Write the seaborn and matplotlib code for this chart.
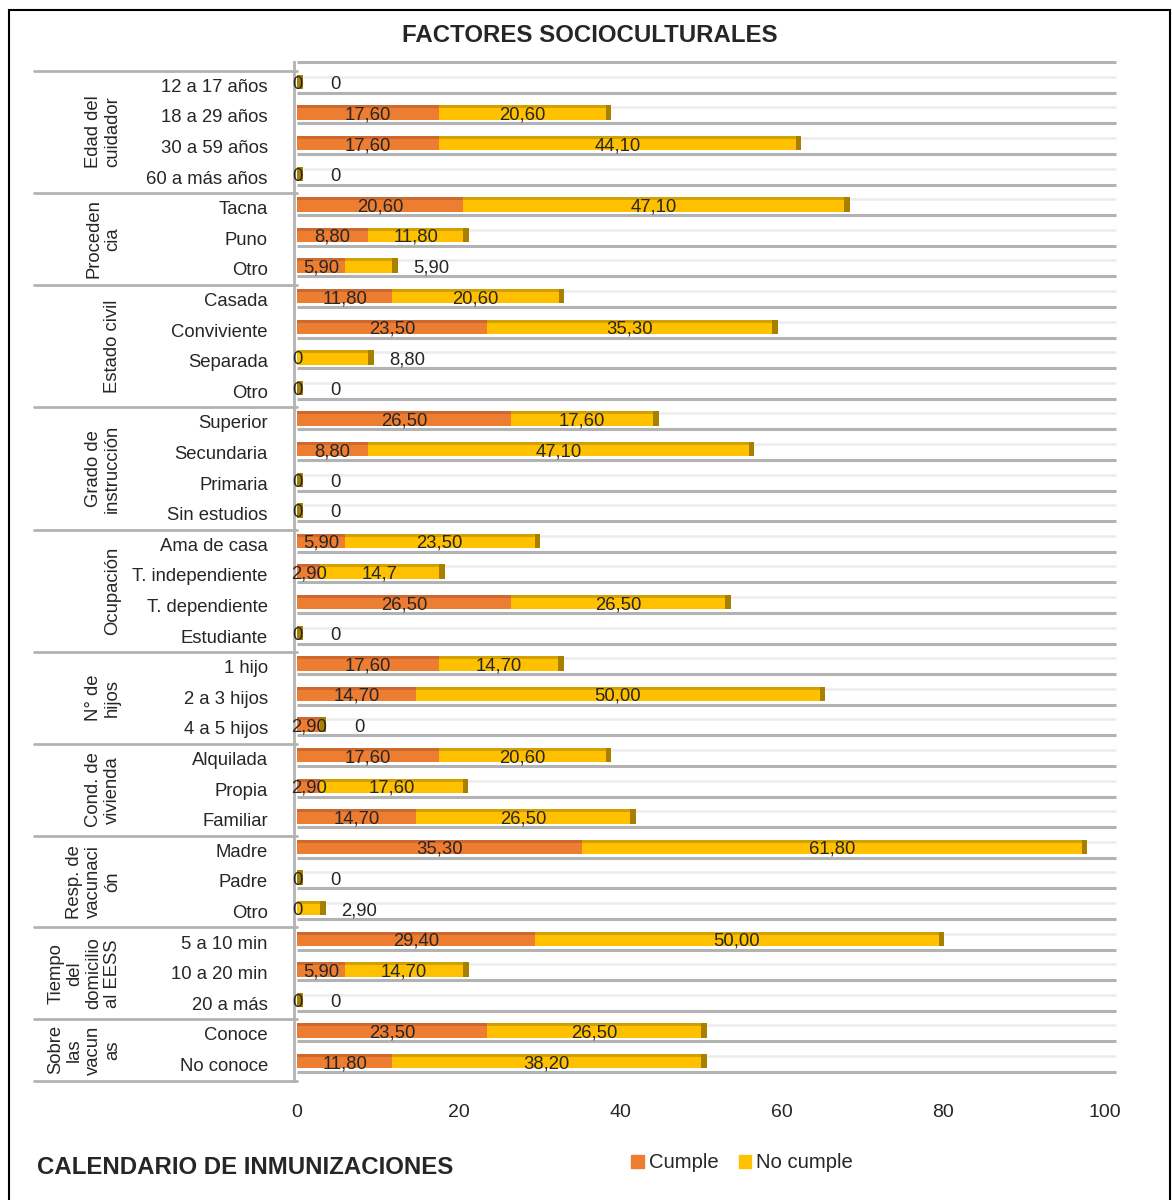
import numpy as np
import pandas as pd
import matplotlib
matplotlib.use('Agg')
import matplotlib.pyplot as plt
import matplotlib.transforms as mtransforms
from matplotlib.patches import Rectangle, Patch
import seaborn as sns

# ---- data ----
groups = ['Edad del\ncuidador', 'Proceden\ncia', 'Estado civil', 'Grado de\ninstrucción',
          'Ocupación', 'N° de\nhijos', 'Cond. de\nvivienda', 'Resp. de\nvacunaci\nón',
          'Tiempo\ndel\ndomicilio\nal EESS', 'Sobre\nlas\nvacun\nas']
group_sizes = [4, 3, 4, 4, 4, 3, 3, 3, 3, 2]

categories = ['12 a 17 años', '18 a 29 años', '30 a 59 años', '60 a más años',
              'Tacna', 'Puno', 'Otro',
              'Casada', 'Conviviente', 'Separada', 'Otro',
              'Superior', 'Secundaria', 'Primaria', 'Sin estudios',
              'Ama de casa', 'T. independiente', 'T. dependiente', 'Estudiante',
              '1 hijo', '2 a 3 hijos', '4 a 5 hijos',
              'Alquilada', 'Propia', 'Familiar',
              'Madre', 'Padre', 'Otro',
              '5 a 10 min', '10 a 20 min', '20 a más',
              'Conoce', 'No conoce']

cumple = [0, 17.6, 17.6, 0,
          20.6, 8.8, 5.9,
          11.8, 23.5, 0, 0,
          26.5, 8.8, 0, 0,
          5.9, 2.9, 26.5, 0,
          17.6, 14.7, 2.9,
          17.6, 2.9, 14.7,
          35.3, 0, 0,
          29.4, 5.9, 0,
          23.5, 11.8]

no_cumple = [0, 20.6, 44.1, 0,
             47.1, 11.8, 5.9,
             20.6, 35.3, 8.8, 0,
             17.6, 47.1, 0, 0,
             23.5, 14.7, 26.5, 0,
             14.7, 50.0, 0,
             20.6, 17.6, 26.5,
             61.8, 0, 2.9,
             50.0, 14.7, 0,
             26.5, 38.2]

# label written as "14,7" in the original
label_override = {16: '14,7'}

x_ticks = [0, 20, 40, 60, 80, 100]

ORANGE = '#ED7D31'
GOLD = '#FFC000'
ORANGE_TOP = '#CD682E'
GOLD_TOP = '#D2A000'
GOLD_SIDE = '#A88000'
DARK_LINE = '#b3b3b3'
LIGHT_LINE = '#ececec'
FS = 13.3
OFF = -0.13  # bars sit a little above the row centre (3D floor look)


def fmt(v):
    if v == 0:
        return '0'
    return f'{v:.2f}'.replace('.', ',')


n = len(categories)
keys = [f'r{i:02d}' for i in range(n)]
df = pd.DataFrame({'key': keys, 'cumple': cumple, 'no_cumple': no_cumple})
df['total'] = df['cumple'] + df['no_cumple']

sns.set_style('white')
plt.rcParams['font.family'] = ['Liberation Sans', 'DejaVu Sans']

W, H = 1172, 1200
fig = plt.figure(figsize=(W / 100, H / 100), dpi=100)

y_top_lim = -0.8
y_bot_lim = n - 0.5
row_px = 30.6
top_px = 86 + y_top_lim * row_px
bot_px = 86 + y_bot_lim * row_px
ax = fig.add_axes([297 / W, 1 - bot_px / H, 808 / W, (bot_px - top_px) / H])

# background floor lines
pos = np.arange(n)
for i in range(-1, n):
    yy = i + OFF + 0.35
    ax.plot([0, 101.3], [yy, yy], color=DARK_LINE, lw=2.2, zorder=0.5,
            clip_on=False, solid_capstyle='butt')
for i in range(n):
    yy = i + OFF - 0.17
    ax.plot([0.8, 101.3], [yy, yy], color=LIGHT_LINE, lw=1.8, zorder=0.4,
            clip_on=False, solid_capstyle='butt')

bh = 0.47
# stacked bars: total first (no cumple colour), then cumple on top
sns.barplot(data=df, x='total', y='key', order=keys, orient='h', color=GOLD,
            width=bh, errorbar=None, saturation=1, linewidth=0, ax=ax, zorder=2)
sns.barplot(data=df, x='cumple', y='key', order=keys, orient='h', color=ORANGE,
            width=bh, errorbar=None, saturation=1, linewidth=0, ax=ax, zorder=3)
for p in ax.patches:
    p.set_y(p.get_y() + OFF)

# 3D look: darker top faces and right side face
ax.barh(pos + OFF - bh / 2 + 0.05, df['no_cumple'], left=df['cumple'], height=0.1,
        color=GOLD_TOP, linewidth=0, zorder=4)
ax.barh(pos + OFF - bh / 2 + 0.05, df['cumple'], height=0.1, color=ORANGE_TOP,
        linewidth=0, zorder=4)
ax.barh(pos + OFF, 0.7, left=df['total'], height=bh, color=GOLD_SIDE, linewidth=0,
        zorder=4)

# value labels
for i in range(n):
    c, nc = cumple[i], no_cumple[i]
    ax.text(c / 2, i - 0.05, fmt(c), ha='center', va='center', fontsize=FS, zorder=6)
    lab = label_override.get(i, fmt(nc))
    if nc >= 10:
        xl = c + nc / 2
    else:
        xl = c + nc + 4.8
    ax.text(xl, i - 0.05, lab, ha='center', va='center', fontsize=FS, zorder=6)

ax.set_xlim(0, 100)
ax.set_ylim(y_bot_lim, y_top_lim)
ax.set_xticks(x_ticks, labels=[str(t) for t in x_ticks])
ax.set_yticks(pos - 0.02, labels=categories)
ax.tick_params(axis='x', length=0, pad=17, labelsize=FS + 0.7)
ax.tick_params(axis='y', length=0, pad=19, labelsize=FS)
ax.set_xlabel('')
ax.set_ylabel('')
for s in ['top', 'right', 'bottom']:
    ax.spines[s].set_visible(False)
ax.spines['left'].set_color(DARK_LINE)
ax.spines['left'].set_linewidth(2)
ax.spines['left'].set_position(('outward', 2))

# group separators and labels on the left
trans = mtransforms.blended_transform_factory(ax.transAxes, ax.transData)
x_left = (34 - 297) / 808
x_lab = (121 - 297) / 808
start = 0
ax.plot([x_left, 0], [-0.5, -0.5], transform=trans, color=DARK_LINE, lw=2, clip_on=False)
for g, size in zip(groups, group_sizes):
    end = start + size
    ax.plot([x_left, 0], [end - 0.5, end - 0.5], transform=trans, color=DARK_LINE,
            lw=2, clip_on=False)
    ax.text(x_lab, (start + end - 1) / 2, g, transform=trans, rotation=90,
            ha='right', va='center', fontsize=FS, multialignment='center',
            linespacing=1.15)
    start = end

fig.text(590 / W, 1 - 36 / H, 'FACTORES SOCIOCULTURALES', ha='center', va='center',
         fontsize=17.3, fontweight='bold')
fig.text(37 / W, 1 - 1168 / H, 'CALENDARIO DE INMUNIZACIONES', ha='left', va='center',
         fontsize=17.3, fontweight='bold')

handles = [Patch(color=ORANGE, label='Cumple'), Patch(color=GOLD, label='No cumple')]
fig.legend(handles=handles, loc='center', bbox_to_anchor=(742 / W, 1 - 1163 / H), ncol=2,
           frameon=False, fontsize=14.6, handlelength=0.6, handleheight=0.6,
           handletextpad=0.25, columnspacing=1.0)

fig.patches.append(Rectangle((9 / W, -0.01), (1170 - 9) / W, 1.01 - 10 / H,
                             transform=fig.transFigure, fill=False, edgecolor='black',
                             lw=1.5))

fig.savefig('out.png', dpi=100)
